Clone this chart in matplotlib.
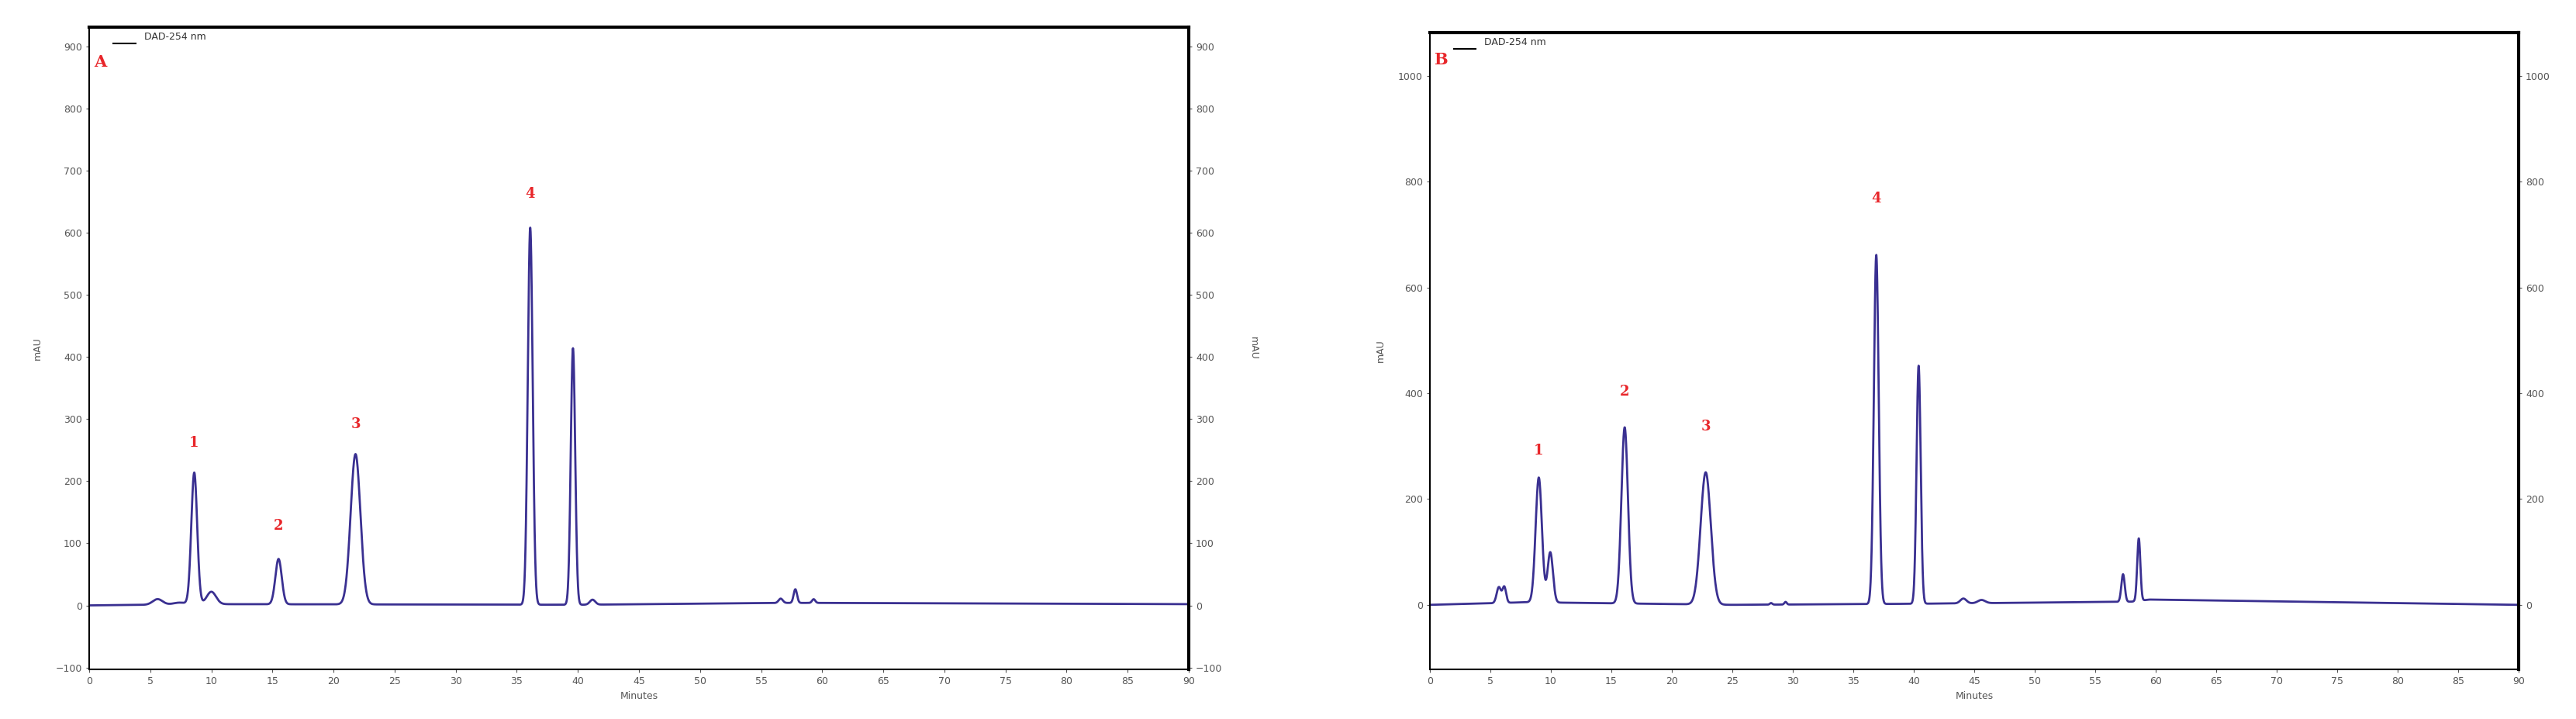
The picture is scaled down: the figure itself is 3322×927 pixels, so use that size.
import numpy as np
import matplotlib
matplotlib.use("Agg")
import matplotlib.pyplot as plt

# Peak tables (retention time min, height mAU, width sigma min)
A_rt = [5.6, 7.4, 8.6, 10.0, 15.5, 21.8, 36.1, 39.6, 41.2, 56.6, 57.8, 59.3]
A_h = [9, 3, 212, 20, 73, 242, 607, 413, 8, 7, 22, 6]
A_w = [0.4, 0.5, 0.24, 0.38, 0.26, 0.4, 0.2, 0.18, 0.22, 0.17, 0.14, 0.13]
A_base_t = [0, 10, 40, 57, 60, 90]
A_base_v = [0, 2, 1, 4, 4, 2]
A_labels = ["1", "2", "3", "4"]
A_label_pos = [(8.6, 262), (15.5, 128), (21.8, 292), (36.1, 662)]

B_rt = [5.7, 6.15, 9.0, 9.95, 16.1, 22.8, 28.2, 29.4, 36.9, 40.4, 44.1, 45.6, 57.3, 58.6]
B_h = [30, 30, 236, 95, 333, 250, 3, 5, 660, 450, 9, 6, 52, 118]
B_w = [0.18, 0.15, 0.26, 0.22, 0.27, 0.42, 0.1, 0.1, 0.2, 0.17, 0.25, 0.3, 0.14, 0.13]
B_base_t = [0, 5, 8, 25, 40, 58, 59.5, 90]
B_base_v = [0, 3, 5, 0, 2, 6, 10, 0]
B_labels = ["1", "2", "3", "4"]
B_label_pos = [(9.0, 292), (16.1, 403), (22.8, 337), (36.9, 768)]

t = np.linspace(0, 90, 9001)

def trace(rt, h, w, bt, bv):
    y = np.interp(t, bt, bv)
    for r, hh, ww in zip(rt, h, w):
        y = y + hh * np.exp(-0.5 * ((t - r) / ww) ** 2)
    return y

fig = plt.figure(figsize=(33.22, 9.27), dpi=100)
fig.patch.set_facecolor("white")
lc = "#3a3091"

def panel(rect, y, ylim, yticks, labels, lpos, letter, letter_y):
    ax = fig.add_axes(rect)
    ax.plot(t, y, color=lc, lw=2)
    ax.set_xlim(0, 90)
    ax.set_ylim(*ylim)
    ax.set_xticks(range(0, 91, 5))
    ax.set_yticks(yticks)
    ax.tick_params(labelsize=9, colors="#555555", length=3)
    ax.tick_params(axis="y", which="both", right=True, labelright=True)
    for s in ["left", "bottom"]:
        ax.spines[s].set_linewidth(1.5)
    for s in ["top", "right"]:
        ax.spines[s].set_linewidth(3)
    ax.set_xlabel("Minutes", fontsize=9, color="#555555")
    ax.set_ylabel("mAU", fontsize=9, color="#555555", labelpad=12)
    ax2 = ax.secondary_yaxis("right")
    ax2.set_yticks([])
    ax2.set_ylabel("mAU", fontsize=9, color="#555555", rotation=270, labelpad=65)
    for lab, (x, yy) in zip(labels, lpos):
        ax.text(x, yy, lab, color="#e8262a", fontsize=13, ha="center", va="center", family="DejaVu Serif", fontweight="bold")
    ax.text(0.9, letter_y, letter, color="#e8262a", fontsize=15, ha="center", va="center", family="DejaVu Serif", fontweight="bold")
    ax.plot([0.022 * 90, 0.042 * 90], [0.975, 0.975], transform=ax.get_xaxis_transform(), color="black", lw=1.5)
    ax.text(0.05 * 90, 0.985, "DAD-254 nm", transform=ax.get_xaxis_transform(), fontsize=9, color="#333333", va="center")
    return ax

panel([115/3322, 1-863/927, (1533-115)/3322, (863-35)/927], trace(A_rt, A_h, A_w, A_base_t, A_base_v),
      (-103, 931), range(-100, 901, 100), A_labels, A_label_pos, "A", 875)
panel([1844/3322, 1-863/927, (3248-1844)/3322, (863-42)/927], trace(B_rt, B_h, B_w, B_base_t, B_base_v),
      (-122, 1082), range(0, 1001, 200), B_labels, B_label_pos, "B", 1030)

fig.savefig("out.png", dpi=100)
